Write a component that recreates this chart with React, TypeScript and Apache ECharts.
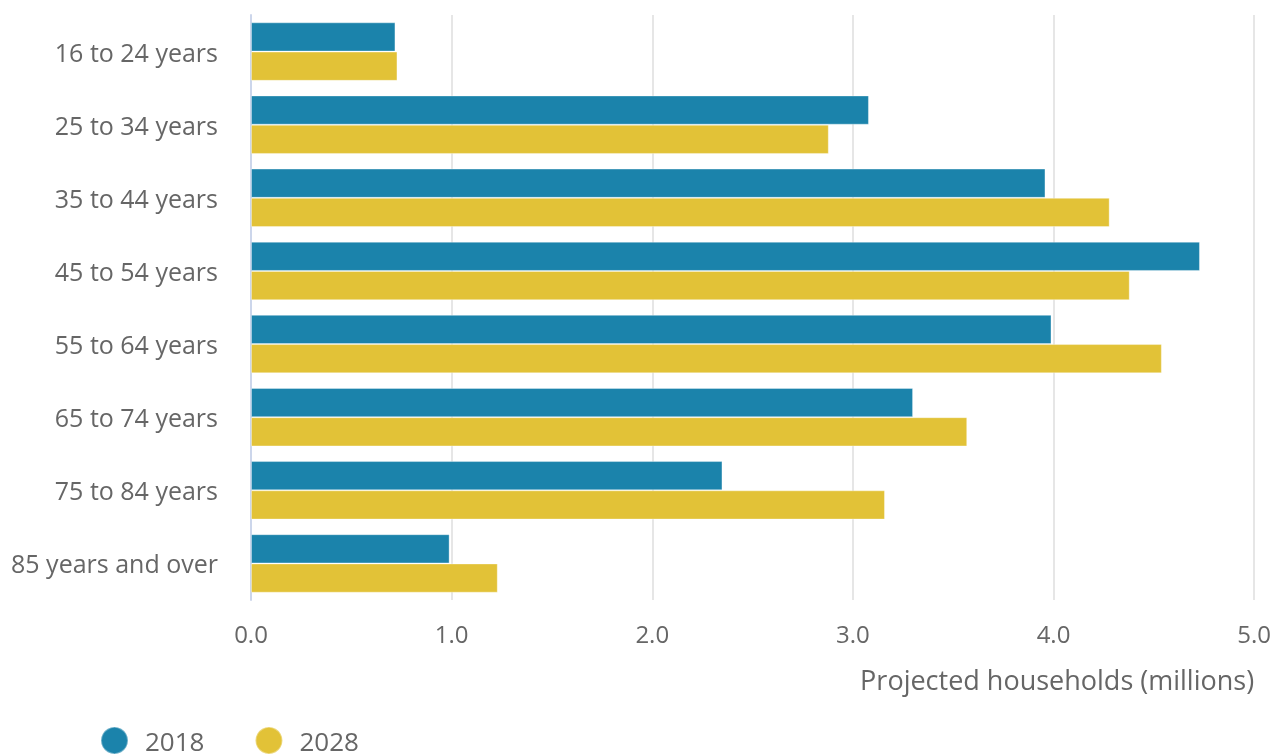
import React, { useEffect, useRef } from "react";
import * as echarts from "echarts";

const categories = [
  "16 to 24 years",
  "25 to 34 years",
  "35 to 44 years",
  "45 to 54 years",
  "55 to 64 years",
  "65 to 74 years",
  "75 to 84 years",
  "85 years and over",
];
const values2018 = [0.72, 3.08, 3.96, 4.73, 3.99, 3.30, 2.35, 0.99];
const values2028 = [0.73, 2.88, 4.28, 4.38, 4.54, 3.57, 3.16, 1.23];
const seriesNames = ["2018", "2028"];
const colors = ["#1b83ab", "#e2c237"];
const axisName = "Projected households (millions)";

export default function App() {
  const ref = useRef<HTMLDivElement>(null);
  useEffect(() => {
    if (!ref.current) return;
    const chart = echarts.init(ref.current, undefined, { renderer: "svg" });
    const font = "'Open Sans', sans-serif";
    chart.setOption({
      animation: false,
      textStyle: { fontFamily: font },
      grid: { left: 251, right: 19, top: 15, bottom: 156, containLabel: false },
      legend: {
        left: 95,
        top: 721,
        icon: "circle",
        itemWidth: 27,
        itemHeight: 27,
        itemGap: 50,
        textStyle: { fontSize: 26, color: "#666", fontFamily: font, padding: [0, 0, 0, 12] },
        data: seriesNames,
      },
      xAxis: {
        type: "value",
        min: 0,
        max: 5,
        interval: 1,
        axisLine: { show: false },
        axisTick: { show: false },
        splitLine: { lineStyle: { color: "#e6e6e6", width: 2 } },
        axisLabel: {
          fontSize: 24,
          color: "#666",
          fontFamily: font,
          margin: 21,
          formatter: (v: number) => v.toFixed(1),
        },
        name: axisName,
        nameLocation: "end",
        nameGap: 0,
        nameTextStyle: {
          fontSize: 27,
          color: "#666",
          fontFamily: font,
          align: "right",
          verticalAlign: "top",
          padding: [66, 0, 0, 0],
        },
      },
      yAxis: {
        type: "category",
        data: categories,
        inverse: true,
        axisLine: { lineStyle: { color: "#ccd6eb", width: 2 } },
        axisTick: { length: 21, lineStyle: { color: "#ccd6eb", width: 2 } },
        axisLabel: { fontSize: 25, color: "#666", fontFamily: font, margin: 33 },
      },
      series: [
        {
          name: seriesNames[0],
          type: "bar",
          data: values2018,
          barGap: "0%",
          barCategoryGap: "20%",
          itemStyle: { color: colors[0], borderColor: "rgba(255,255,255,0.35)", borderWidth: 1 },
        },
        {
          name: seriesNames[1],
          type: "bar",
          data: values2028,
          barGap: "0%",
          barCategoryGap: "20%",
          itemStyle: { color: colors[1], borderColor: "rgba(255,255,255,0.35)", borderWidth: 1 },
        },
      ],
    });
    return () => chart.dispose();
  }, []);
  return (
    <div
      ref={ref}
      style={{ position: "fixed", left: 0, top: 0, width: 1274, height: 756 }}
    />
  );
}
